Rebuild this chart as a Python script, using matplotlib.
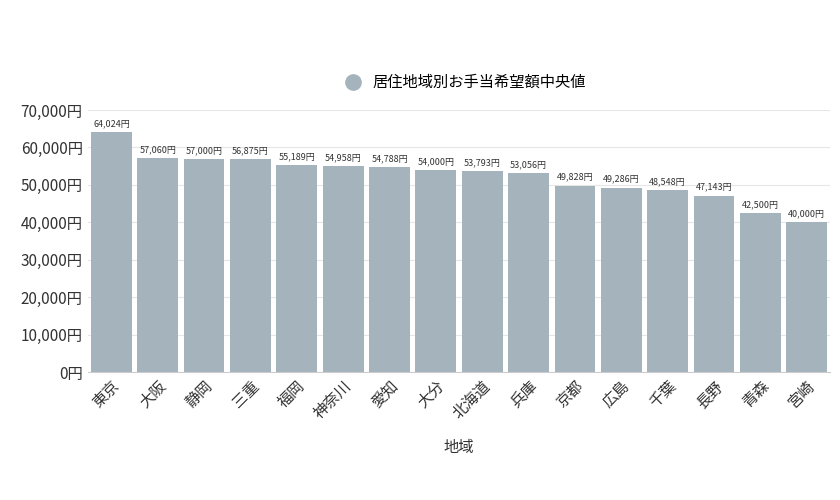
import matplotlib
matplotlib.use("Agg")
import matplotlib.pyplot as plt
from matplotlib.lines import Line2D

plt.rcParams['font.family'] = ['Noto Sans CJK JP', 'DejaVu Sans']

regions = ["東京","大阪","静岡","三重","福岡","神奈川","愛知","大分","北海道","兵庫","京都","広島","千葉","長野","青森","宮崎"]
values = [64024,57060,57000,56875,55189,54958,54788,54000,53793,53056,49828,49286,48548,47143,42500,40000]
yticks = [0,10000,20000,30000,40000,50000,60000,70000]

color = "#a5b3bd"
fig = plt.figure(figsize=(8.4,5), dpi=100)
ax = fig.add_axes([0.105,0.256,0.883,0.524])
x = range(len(regions))
bars = ax.bar(x, values, width=0.88, color=color, zorder=2)
for xi, v in zip(x, values):
    ax.text(xi, v+1000, f"{v:,}円", ha="center", va="bottom", fontsize=6.5, color="#333333")
ax.set_ylim(0,70000)
ax.set_xlim(-0.5, len(regions)-0.5)
ax.set_yticks(yticks)
ax.set_yticklabels([f"{t:,}円" for t in yticks], fontsize=11, color="#333333")
ax.set_xticks(list(x))
ax.set_xticklabels(regions, rotation=45, ha="right", rotation_mode="anchor", fontsize=11, color="#333333")
ax.grid(axis="y", color="#e6e6e6", linewidth=0.8, zorder=0)
for s in ["top","right","left"]:
    ax.spines[s].set_visible(False)
ax.spines["bottom"].set_color("#cccccc")
ax.tick_params(axis="both", length=0, pad=4)
ax.set_xlabel("地域", fontsize=11, color="#333333", labelpad=12)
h = Line2D([],[],marker="o",linestyle="",markersize=11,color=color)
fig.legend([h],["居住地域別お手当希望額中央値"], loc="center", bbox_to_anchor=(0.55,0.835),
           frameon=False, fontsize=11, handletextpad=0.3)
fig.savefig("out.png", dpi=100)
